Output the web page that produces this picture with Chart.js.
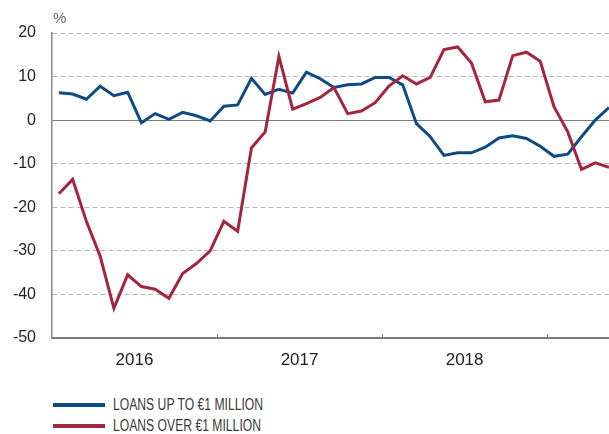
<!DOCTYPE html>
<html>
<head>
<meta charset="utf-8">
<script src="https://cdn.jsdelivr.net/npm/chart.js@4"></script>
<style>
  body { margin: 0; background: #fff; }
  #wrap { position: relative; width: 609px; height: 380px; }
  #legend { position: absolute; left: 53px; top: 394px; font-family: 'Liberation Sans', Arial, sans-serif; font-size: 16px; color: #3a3a3a; }
  .item { position: relative; height: 21px; line-height: 21px; white-space: nowrap; }
  .swatch { display: inline-block; width: 52px; height: 4px; vertical-align: middle; margin-right: 8px; position: relative; top: -1px; }
  .txt { display: inline-block; transform: scaleX(0.76); transform-origin: left center; }
</style>
</head>
<body>
<div id="wrap"><canvas id="myChart" width="609" height="380"></canvas></div>
<div id="legend"></div>
<script>
var months = [
  '2016-01','2016-02','2016-03','2016-04','2016-05','2016-06','2016-07','2016-08','2016-09','2016-10','2016-11','2016-12',
  '2017-01','2017-02','2017-03','2017-04','2017-05','2017-06','2017-07','2017-08','2017-09','2017-10','2017-11','2017-12',
  '2018-01','2018-02','2018-03','2018-04','2018-05','2018-06','2018-07','2018-08','2018-09','2018-10','2018-11','2018-12',
  '2019-01','2019-02','2019-03','2019-04','2019-05'
];
var years = ['2016', '2017', '2018'];

var loansUpTo1m = [
  6.3, 6.0, 4.8, 7.8, 5.6, 6.4, -0.6, 1.5, 0.2, 1.8, 1.0, -0.2,
  3.2, 3.5, 9.6, 5.9, 7.1, 6.2, 11.0, 9.5, 7.5, 8.1, 8.3, 9.8,
  9.8, 8.1, -0.8, -3.8, -8.1, -7.5, -7.5, -6.2, -4.1, -3.6, -4.2, -6.0,
  -8.3, -7.8, -3.8, 0.0, 2.9
];
var loansOver1m = [
  -16.9, -13.6, -23.2, -31.2, -43.2, -35.5, -38.2, -38.8, -40.9, -35.2, -32.9, -30.0,
  -23.2, -25.5, -6.4, -2.7, 14.6, 2.5, 3.8, 5.2, 7.5, 1.5, 2.1, 4.0,
  7.8, 10.2, 8.3, 9.8, 16.2, 16.8, 13.1, 4.2, 4.6, 14.8, 15.6, 13.5,
  3.1, -2.7, -11.3, -9.8, -10.8
];

var seriesNames = ['LOANS UP TO €1 MILLION', 'LOANS OVER €1 MILLION'];
var seriesColors = ['#0e4a84', '#a2263e'];

function toPoints(arr) {
    return arr.map(function(v, i) { return {x: i + 0.5, y: v}; });
}

var tickMarks = {
    id: 'tickMarks',
    afterDraw: function(chart) {
        var ctx = chart.ctx;
        var xs = chart.scales.x;
        var bottom = chart.chartArea.bottom;
        ctx.save();
        ctx.strokeStyle = '#8a8a8a';
        ctx.lineWidth = 1;
        [12, 24, 36].forEach(function(v) {
            var px = Math.round(xs.getPixelForValue(v)) + 0.5;
            ctx.beginPath();
            ctx.moveTo(px, bottom - 4);
            ctx.lineTo(px, bottom);
            ctx.stroke();
        });
        ctx.fillStyle = '#666';
        ctx.font = '15px "Liberation Sans", Arial, sans-serif';
        ctx.textBaseline = 'alphabetic';
        ctx.textAlign = 'left';
        ctx.fillText('%', chart.chartArea.left + 1, 23);
        ctx.restore();
    }
};

function MakeGraph() {
    const chart = document.getElementById('myChart');
    Chart.defaults.font.family = '"Liberation Sans", Arial, sans-serif';
    Chart.defaults.color = '#222';

    var datasets = [loansUpTo1m, loansOver1m].map(function(arr, i) {
        return {
            label: seriesNames[i],
            data: toPoints(arr),
            borderColor: seriesColors[i],
            backgroundColor: seriesColors[i],
            borderWidth: 3,
            pointRadius: 0,
            tension: 0,
            order: 1 - i
        };
    });

    new Chart(chart, {
        type: 'line',
        data: { datasets: datasets },
        plugins: [tickMarks],
        options: {
            responsive: false,
            animation: false,
            layout: { padding: { top: 33, right: 0, left: 0, bottom: 0 } },
            plugins: { legend: { display: false }, tooltip: { enabled: false } },
            scales: {
                x: {
                    type: 'linear',
                    min: 0,
                    max: 40.5,
                    afterBuildTicks: function(s) {
                        s.ticks = [{value: 6}, {value: 18}, {value: 30}];
                    },
                    afterFit: function(s) { s.height = 42; },
                    ticks: {
                        autoSkip: false,
                        maxRotation: 0,
                        padding: 12,
                        font: { size: 17 },
                        callback: function(v) { return years[Math.round((v - 6) / 12)]; }
                    },
                    grid: { display: false, drawTicks: false },
                    border: { display: true, color: '#7a7a7a', width: 2 }
                },
                y: {
                    min: -50,
                    max: 20,
                    afterFit: function(s) { s.width = 52; },
                    ticks: { stepSize: 10, padding: 16, font: { size: 16 } },
                    grid: {
                        drawTicks: false,
                        lineWidth: 1,
                        color: function(c) { return c.tick && c.tick.value === 0 ? '#7d7d7d' : '#b5b5b5'; }
                    },
                    border: {
                        display: true,
                        color: '#8a8a8a',
                        width: 1.5,
                        dash: function(c) { return c.tick && c.tick.value === 0 ? [] : [5, 3]; }
                    }
                }
            }
        }
    });

    var legend = document.getElementById('legend');
    seriesNames.forEach(function(name, i) {
        var row = document.createElement('div');
        row.className = 'item';
        row.innerHTML = '<span class="swatch" style="background:' + seriesColors[i] + '"></span><span class="txt">' + name + '</span>';
        legend.appendChild(row);
    });
}

MakeGraph();
</script>
</body>
</html>
